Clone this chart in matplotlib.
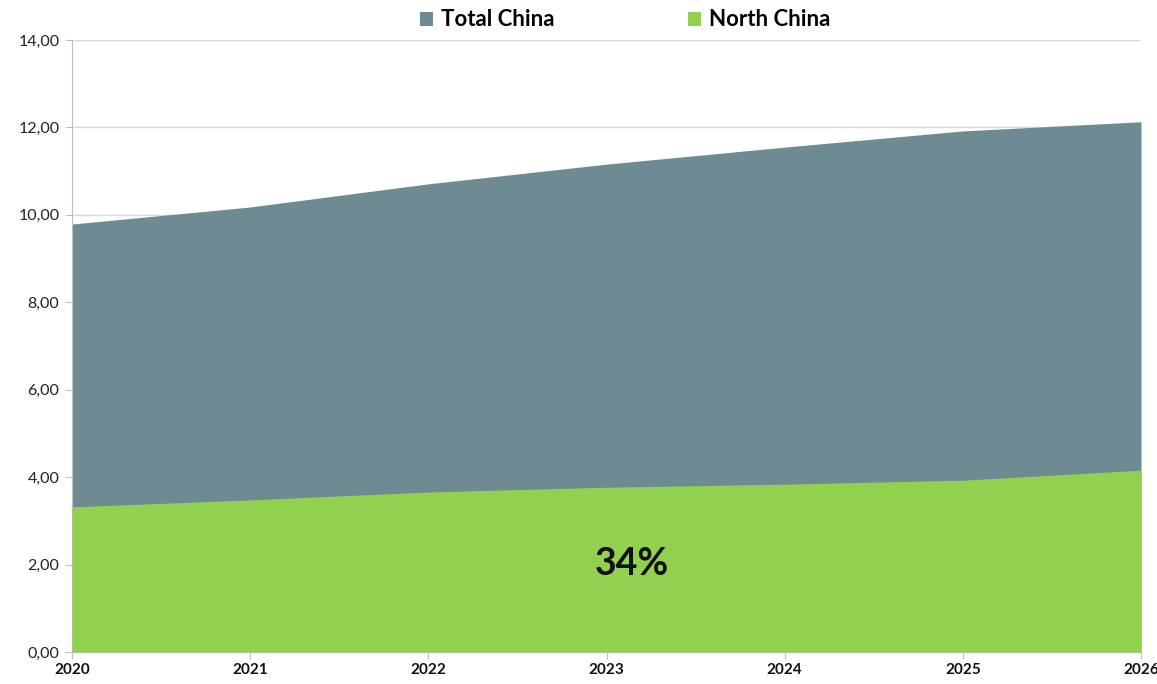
import matplotlib
matplotlib.use("Agg")
import matplotlib.pyplot as plt
from matplotlib.ticker import FuncFormatter
from matplotlib.patches import Patch

years = [2020, 2021, 2022, 2023, 2024, 2025, 2026]
total_china = [9.79, 10.18, 10.71, 11.16, 11.55, 11.92, 12.13]
north_china = [3.32, 3.48, 3.66, 3.77, 3.84, 3.93, 4.16]
share_label = "34%"

plt.rcParams['font.family'] = ['Lato', 'DejaVu Sans']

fig = plt.figure(figsize=(11.57, 6.84), dpi=100)
ax = fig.add_axes([72/1157, 1-652/684, (1141-72)/1157, (652-40)/684])

c_total = "#6E8A93"
c_north = "#92D050"

ax.fill_between(years, 0, total_china, color=c_total, linewidth=0, zorder=2)
ax.fill_between(years, 0, north_china, color=c_north, linewidth=0, zorder=3)

ax.set_xlim(years[0], years[-1])
ax.set_ylim(0, 14)
ax.set_yticks(range(0, 15, 2))
ax.set_xticks(years)
ax.yaxis.set_major_formatter(FuncFormatter(lambda v, p: f"{v:.2f}".replace(".", ",")))
ax.grid(axis='y', color='#D9D9D9', linewidth=1, zorder=1)
ax.set_axisbelow(True)

for s in ['top', 'right']:
    ax.spines[s].set_visible(False)
ax.spines['left'].set_color('#BFBFBF')
ax.spines['bottom'].set_color('#BFBFBF')
ax.tick_params(axis='y', colors='#BFBFBF', labelcolor='#222222', labelsize=11.5, length=5, pad=4)
ax.tick_params(axis='x', colors='#BFBFBF', labelcolor='#111111', labelsize=11, length=5, pad=3)
for lbl in ax.get_xticklabels():
    lbl.set_fontweight('bold')

ax.text(2023.14, 2.02, share_label, fontsize=27, fontweight='bold', ha='center', va='center', color='#111111', zorder=5)

handles = [Patch(facecolor=c_total, label="Total China"), Patch(facecolor=c_north, label="North China")]
fig.legend(handles=handles, loc='center', bbox_to_anchor=(625/1157, 1-20/684), ncol=2, frameon=False,
           prop={'weight': 'bold', 'size': 16}, handlelength=0.6, handleheight=0.6, handletextpad=0.35,
           columnspacing=6.0)

fig.savefig("out.png", dpi=100)
